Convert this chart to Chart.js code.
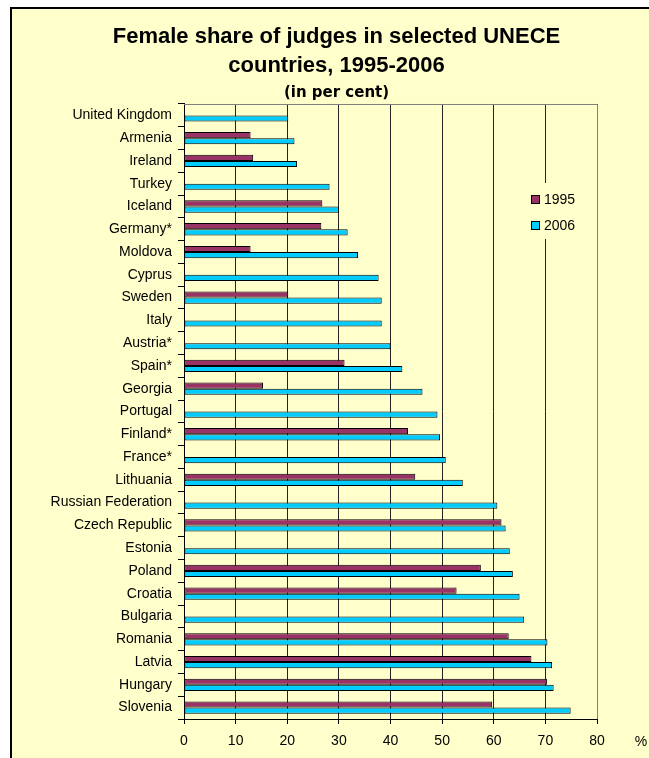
<!DOCTYPE html>
<html>
<head>
<meta charset="utf-8">
<script src="https://cdn.jsdelivr.net/npm/chart.js@4"></script>
<style>
  body { margin: 0; background: #fff; }
  #box {
    position: absolute; left: 10px; top: 7px;
    border-top: 2px solid #000; border-left: 2px solid #000;
    background: #ffffcc; width: 637px; height: 749px;
  }
  canvas { display: block; }
</style>
</head>
<body>
<div id="box"><canvas id="myChart" width="637" height="749"></canvas></div>
<script>
// values (per cent)
const countries = ["United Kingdom", "Armenia", "Ireland", "Turkey", "Iceland", "Germany*", "Moldova",
  "Cyprus", "Sweden", "Italy", "Austria*", "Spain*", "Georgia", "Portugal", "Finland*", "France*",
  "Lithuania", "Russian Federation", "Czech Republic", "Estonia", "Poland", "Croatia", "Bulgaria",
  "Romania", "Latvia", "Hungary", "Slovenia"];
const share1995 = [null, 12.9, 13.4, null, 26.8, 26.6, 12.9, null, 20.2, null, null, 31.1, 15.3, null,
  43.4, null, 44.8, null, 61.5, null, 57.5, 52.8, null, 62.9, 67.3, 70.3, 59.7];
const share2006 = [20.2, 21.4, 21.9, 28.2, 30.0, 31.7, 33.7, 37.7, 38.3, 38.3, 40.0, 42.3, 46.2, 49.1,
  49.6, 50.7, 54.0, 60.7, 62.3, 63.1, 63.7, 65.0, 65.9, 70.4, 71.3, 71.6, 74.9];
const xTicks = [0, 10, 20, 30, 40, 50, 60, 70, 80];
const seriesNames = ["1995", "2006"];
const seriesColors = ["#993366", "#00ccff"];

const FONT = "'Liberation Sans', Arial, sans-serif";
Chart.defaults.font.family = FONT;
Chart.defaults.color = "#000";

// gray frame round the plot area, legend box and the "%" sign
const extras = {
  id: "extras",
  beforeDatasetsDraw(chart) {
    const a = chart.chartArea, ctx = chart.ctx;
    ctx.save();
    ctx.strokeStyle = "#808080";
    ctx.lineWidth = 1;
    ctx.beginPath();
    ctx.moveTo(a.left, a.top + 0.5);
    ctx.lineTo(a.right + 0.5, a.top + 0.5);
    ctx.lineTo(a.right + 0.5, a.bottom);
    ctx.stroke();
    ctx.restore();
  },
  afterDraw(chart) {
    const ctx = chart.ctx;
    ctx.save();
    ctx.fillStyle = "#ffffcc";
    ctx.fillRect(515, 174, 66, 56);
    ctx.font = "14px " + FONT;
    ctx.textBaseline = "middle";
    seriesNames.forEach((name, i) => {
      const y = 190 + i * 26;
      ctx.fillStyle = seriesColors[i];
      ctx.fillRect(519, y - 4, 9, 9);
      ctx.strokeStyle = "#000";
      ctx.strokeRect(519.5, y - 3.5, 8, 8);
      ctx.fillStyle = "#000";
      ctx.fillText(name, 532, y + 1);
    });
    ctx.textAlign = "center";
    ctx.fillText("%", 629, 733);
    ctx.restore();
  }
};

new Chart(document.getElementById("myChart"), {
  type: "bar",
  data: {
    labels: countries,
    datasets: [
      { label: seriesNames[0], data: share1995, backgroundColor: seriesColors[0] },
      { label: seriesNames[1], data: share2006, backgroundColor: seriesColors[1] }
    ]
  },
  options: {
    indexAxis: "y",
    responsive: false,
    animation: false,
    devicePixelRatio: 1,
    layout: { padding: { left: 12, right: 0, top: 0, bottom: 0 } },
    datasets: {
      bar: {
        borderColor: "#000", borderWidth: 1, borderSkipped: false,
        categoryPercentage: 0.54, barPercentage: 1.0
      }
    },
    plugins: {
      legend: { display: false },
      tooltip: { enabled: false },
      title: {
        display: true,
        text: ["Female share of judges in selected UNECE", "countries, 1995-2006"],
        font: { size: 22, weight: "bold", lineHeight: 1.318 },
        padding: { top: 13, bottom: 0 }
      },
      subtitle: {
        display: true,
        text: "(in per cent)",
        font: { family: "'DejaVu Sans', sans-serif", size: 15, weight: "bold", lineHeight: 1.2 },
        color: "#000",
        padding: { top: 4, bottom: 2 }
      }
    },
    scales: {
      x: {
        min: 0, max: 80,
        afterBuildTicks: (s) => { s.ticks = xTicks.map(v => ({ value: v })); },
        afterFit: (s) => { s.height = 39; },
        grid: { color: "#222", tickLength: 5, tickColor: "#000" },
        border: { color: "#000" },
        ticks: { font: { size: 14 }, padding: 9, maxRotation: 0 }
      },
      y: {
        afterFit: (s) => { s.width = 160; },
        grid: { drawOnChartArea: false, offset: true, tickLength: 6, color: "#000" },
        border: { color: "#000" },
        ticks: { font: { size: 14 }, padding: 6, autoSkip: false }
      },
      // empty strip on the right, keeps the plot narrow while the title stays centred
      yRight: {
        type: "category",
        position: "right",
        afterFit: (s) => { s.width = 52; },
        grid: { display: false },
        border: { display: false },
        ticks: { display: false }
      }
    }
  },
  plugins: [extras]
});
</script>
</body>
</html>
